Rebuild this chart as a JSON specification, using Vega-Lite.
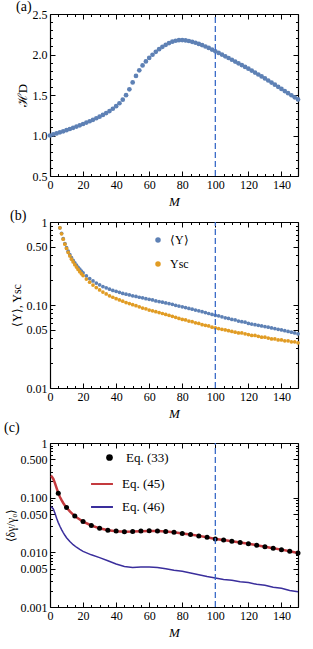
{
 "$schema": "https://vega.github.io/schema/vega-lite/v6.json",
 "padding": {"left": 4, "right": 2, "top": 0, "bottom": 0},
 "spacing": 0,
 "resolve": {"scale": {"color": "independent", "shape": "independent"}, "legend": {"color": "independent", "shape": "independent"}},
 "config": {
  "font": "Liberation Serif",
  "view": {"stroke": null},
  "axis": {"labelFont": "Liberation Serif", "labelFontSize": 12, "labelColor": "black", "titleFont": "Liberation Serif", "titleFontSize": 13, "titleFontWeight": "normal", "titleColor": "black", "domainColor": "black", "domainWidth": 1.2, "tickColor": "black", "tickWidth": 1, "grid": false, "labelFlush": false, "labelOverlap": false, "labelBound": false, "titlePadding": 3},
  "legend": {"labelFont": "Liberation Serif", "labelColor": "black", "padding": 0},
  "title": {"font": "Liberation Serif", "fontSize": 14, "fontWeight": "normal", "anchor": "start", "frame": "bounds", "color": "black"}
 },
 "datasets": {
  "a": [
   {"M":0,"H":1.000},{"M":2,"H":1.013},{"M":4,"H":1.026},{"M":6,"H":1.039},{"M":8,"H":1.052},{"M":10,"H":1.066},{"M":12,"H":1.080},{"M":14,"H":1.095},{"M":16,"H":1.110},{"M":18,"H":1.126},{"M":20,"H":1.142},{"M":22,"H":1.159},{"M":24,"H":1.176},{"M":26,"H":1.194},{"M":28,"H":1.213},{"M":30,"H":1.233},{"M":32,"H":1.254},{"M":34,"H":1.277},{"M":36,"H":1.302},{"M":38,"H":1.330},{"M":40,"H":1.362},{"M":42,"H":1.398},{"M":44,"H":1.442},{"M":46,"H":1.498},{"M":48,"H":1.570},{"M":50,"H":1.655},{"M":52,"H":1.735},{"M":54,"H":1.805},{"M":56,"H":1.865},{"M":58,"H":1.915},{"M":60,"H":1.958},{"M":62,"H":1.997},{"M":64,"H":2.033},{"M":66,"H":2.066},{"M":68,"H":2.095},{"M":70,"H":2.120},{"M":72,"H":2.141},{"M":74,"H":2.158},{"M":76,"H":2.170},{"M":78,"H":2.177},{"M":80,"H":2.178},{"M":82,"H":2.174},{"M":84,"H":2.167},{"M":86,"H":2.157},{"M":88,"H":2.145},{"M":90,"H":2.131},{"M":92,"H":2.116},{"M":94,"H":2.099},{"M":96,"H":2.081},{"M":98,"H":2.061},{"M":100,"H":2.040},{"M":102,"H":2.020},{"M":104,"H":1.999},{"M":106,"H":1.978},{"M":108,"H":1.957},{"M":110,"H":1.935},{"M":112,"H":1.913},{"M":114,"H":1.891},{"M":116,"H":1.869},{"M":118,"H":1.847},{"M":120,"H":1.825},{"M":122,"H":1.801},{"M":124,"H":1.777},{"M":126,"H":1.753},{"M":128,"H":1.729},{"M":130,"H":1.705},{"M":132,"H":1.679},{"M":134,"H":1.653},{"M":136,"H":1.627},{"M":138,"H":1.601},{"M":140,"H":1.575},{"M":142,"H":1.549},{"M":144,"H":1.523},{"M":146,"H":1.497},{"M":148,"H":1.471},{"M":150,"H":1.445}
  ],
  "b": [
   {"M":6,"u":0.85,"sc":0.85},{"M":7,"u":0.73,"sc":0.72},{"M":8,"u":0.63,"sc":0.62},{"M":9,"u":0.55,"sc":0.54},{"M":10,"u":0.49,"sc":0.48},{"M":11,"u":0.445,"sc":0.43},{"M":12,"u":0.405,"sc":0.39},{"M":13,"u":0.372,"sc":0.357},{"M":14,"u":0.345,"sc":0.33},{"M":15,"u":0.322,"sc":0.306},{"M":16,"u":0.302,"sc":0.286},{"M":17,"u":0.285,"sc":0.268},{"M":18,"u":0.27,"sc":0.252},{"M":19,"u":0.256,"sc":0.238},{"M":20,"u":0.244,"sc":0.226},{"M":22,"u":0.224,"sc":0.205},{"M":24,"u":0.208,"sc":0.188},{"M":26,"u":0.195,"sc":0.174},{"M":28,"u":0.184,"sc":0.162},{"M":30,"u":0.175,"sc":0.152},{"M":32,"u":0.167,"sc":0.143},{"M":34,"u":0.161,"sc":0.136},{"M":36,"u":0.155,"sc":0.129},{"M":38,"u":0.150,"sc":0.124},{"M":40,"u":0.146,"sc":0.119},{"M":42,"u":0.142,"sc":0.115},{"M":44,"u":0.138,"sc":0.111},{"M":46,"u":0.135,"sc":0.107},{"M":48,"u":0.132,"sc":0.104},{"M":50,"u":0.129,"sc":0.101},{"M":52,"u":0.127,"sc":0.098},{"M":54,"u":0.124,"sc":0.095},{"M":56,"u":0.122,"sc":0.092},{"M":58,"u":0.119,"sc":0.090},{"M":60,"u":0.117,"sc":0.087},{"M":62,"u":0.115,"sc":0.085},{"M":64,"u":0.112,"sc":0.083},{"M":66,"u":0.110,"sc":0.081},{"M":68,"u":0.108,"sc":0.079},{"M":70,"u":0.106,"sc":0.077},{"M":72,"u":0.104,"sc":0.075},{"M":74,"u":0.102,"sc":0.073},{"M":76,"u":0.099,"sc":0.071},{"M":78,"u":0.097,"sc":0.069},{"M":80,"u":0.095,"sc":0.067},{"M":82,"u":0.093,"sc":0.066},{"M":84,"u":0.091,"sc":0.064},{"M":86,"u":0.089,"sc":0.063},{"M":88,"u":0.087,"sc":0.061},{"M":90,"u":0.085,"sc":0.060},{"M":92,"u":0.083,"sc":0.058},{"M":94,"u":0.081,"sc":0.057},{"M":96,"u":0.079,"sc":0.056},{"M":98,"u":0.077,"sc":0.054},{"M":100,"u":0.075,"sc":0.053},{"M":102,"u":0.074,"sc":0.052},{"M":104,"u":0.072,"sc":0.051},{"M":106,"u":0.070,"sc":0.050},{"M":108,"u":0.069,"sc":0.049},{"M":110,"u":0.067,"sc":0.048},{"M":112,"u":0.066,"sc":0.047},{"M":114,"u":0.064,"sc":0.046},{"M":116,"u":0.063,"sc":0.046},{"M":118,"u":0.062,"sc":0.045},{"M":120,"u":0.060,"sc":0.044},{"M":122,"u":0.059,"sc":0.043},{"M":124,"u":0.058,"sc":0.043},{"M":126,"u":0.057,"sc":0.042},{"M":128,"u":0.056,"sc":0.041},{"M":130,"u":0.055,"sc":0.041},{"M":132,"u":0.054,"sc":0.040},{"M":134,"u":0.053,"sc":0.039},{"M":136,"u":0.052,"sc":0.039},{"M":138,"u":0.051,"sc":0.038},{"M":140,"u":0.050,"sc":0.038},{"M":142,"u":0.049,"sc":0.037},{"M":144,"u":0.048,"sc":0.037},{"M":146,"u":0.047,"sc":0.036},{"M":148,"u":0.046,"sc":0.036},{"M":150,"u":0.045,"sc":0.035}
  ],
  "c33": [
   {"M":5,"v":0.121},{"M":10,"v":0.066},{"M":15,"v":0.046},{"M":20,"v":0.0365},{"M":25,"v":0.031},{"M":30,"v":0.0275},{"M":35,"v":0.0253},{"M":40,"v":0.0245},{"M":45,"v":0.0238},{"M":50,"v":0.0240},{"M":55,"v":0.0245},{"M":60,"v":0.0247},{"M":65,"v":0.0246},{"M":70,"v":0.0240},{"M":75,"v":0.0232},{"M":80,"v":0.0222},{"M":85,"v":0.0212},{"M":90,"v":0.0200},{"M":95,"v":0.0188},{"M":100,"v":0.0176},{"M":105,"v":0.0168},{"M":110,"v":0.0160},{"M":115,"v":0.0152},{"M":120,"v":0.0144},{"M":125,"v":0.0135},{"M":130,"v":0.0127},{"M":135,"v":0.0119},{"M":140,"v":0.0112},{"M":145,"v":0.0105},{"M":150,"v":0.0097}
  ],
  "c45": [
   {"M":0.5,"v":0.25},{"M":1,"v":0.245},{"M":2,"v":0.22},{"M":3,"v":0.185},{"M":4,"v":0.15},{"M":5,"v":0.121},{"M":6,"v":0.103},{"M":7,"v":0.09},{"M":8,"v":0.08},{"M":9,"v":0.072},{"M":10,"v":0.066},{"M":12,"v":0.056},{"M":14,"v":0.049},{"M":16,"v":0.044},{"M":18,"v":0.040},{"M":20,"v":0.0365},{"M":25,"v":0.031},{"M":30,"v":0.0275},{"M":35,"v":0.0253},{"M":40,"v":0.0244},{"M":45,"v":0.0239},{"M":50,"v":0.0240},{"M":55,"v":0.0244},{"M":60,"v":0.0246},{"M":65,"v":0.0245},{"M":70,"v":0.0240},{"M":75,"v":0.0232},{"M":80,"v":0.0222},{"M":85,"v":0.0212},{"M":90,"v":0.0200},{"M":95,"v":0.0188},{"M":100,"v":0.0176},{"M":105,"v":0.0168},{"M":110,"v":0.0160},{"M":115,"v":0.0152},{"M":120,"v":0.0144},{"M":125,"v":0.0135},{"M":130,"v":0.0127},{"M":135,"v":0.0119},{"M":140,"v":0.0112},{"M":145,"v":0.0105},{"M":150,"v":0.0097}
  ],
  "c46": [
   {"M":0.5,"v":0.068},{"M":1,"v":0.067},{"M":2,"v":0.062},{"M":3,"v":0.052},{"M":4,"v":0.042},{"M":5,"v":0.035},{"M":6,"v":0.030},{"M":7,"v":0.026},{"M":8,"v":0.023},{"M":9,"v":0.0205},{"M":10,"v":0.0185},{"M":12,"v":0.0158},{"M":14,"v":0.0138},{"M":16,"v":0.0124},{"M":18,"v":0.0113},{"M":20,"v":0.0104},{"M":25,"v":0.0090},{"M":30,"v":0.0080},{"M":35,"v":0.0070},{"M":40,"v":0.0061},{"M":45,"v":0.0055},{"M":50,"v":0.0053},{"M":55,"v":0.0054},{"M":60,"v":0.0054},{"M":65,"v":0.0053},{"M":70,"v":0.0050},{"M":75,"v":0.0047},{"M":80,"v":0.0045},{"M":85,"v":0.0042},{"M":90,"v":0.0039},{"M":95,"v":0.0036},{"M":100,"v":0.0034},{"M":105,"v":0.0032},{"M":110,"v":0.0031},{"M":115,"v":0.0029},{"M":120,"v":0.0028},{"M":125,"v":0.0026},{"M":130,"v":0.0025},{"M":135,"v":0.0023},{"M":140,"v":0.0022},{"M":145,"v":0.0020},{"M":150,"v":0.0019}
  ]
 },
 "vconcat": [
  {
   "title": {"text": "(a)", "offset": -6},
   "width": 248, "height": 162,
   "layer": [
    {"data": {"name": "a"}, "mark": {"type": "circle", "size": 22, "color": "#5e81b5", "opacity": 1},
     "encoding": {
      "x": {"field": "M", "type": "quantitative", "scale": {"domain": [0, 150], "nice": false, "zero": false},
       "axis": {"orient": "bottom", "title": "M", "titleFontStyle": "italic", "values": [0,5,10,15,20,25,30,35,40,45,50,55,60,65,70,75,80,85,90,95,100,105,110,115,120,125,130,135,140,145,150], "labelExpr": "datum.value % 20 === 0 ? datum.label : ''", "tickSize": {"condition": {"test": "datum.value % 20 !== 0", "value": -2.5}, "value": -5}, "labelPadding": 8, "labelFlush": false}},
      "y": {"field": "H", "type": "quantitative", "scale": {"domain": [0.5, 2.5], "nice": false, "zero": false},
       "axis": {"orient": "left", "title": "ℋD", "values": [0.5,0.6,0.7,0.8,0.9,1,1.1,1.2,1.3,1.4,1.5,1.6,1.7,1.8,1.9,2,2.1,2.2,2.3,2.4,2.5], "labelExpr": "abs(datum.value*2-round(datum.value*2)) < 0.001 ? format(datum.value, '.1f') : ''", "tickSize": {"condition": {"test": "abs(datum.value*2-round(datum.value*2)) >= 0.001", "value": -2.5}, "value": -5}, "labelPadding": 8}}
     }},
    {"data": {"values": [{"M": 100}]}, "mark": {"type": "rule", "color": "#3a6bc8", "strokeDash": [6, 3], "strokeWidth": 1.3},
     "encoding": {
      "x": {"field": "M", "type": "quantitative", "axis": {"orient": "top", "title": null, "labels": false, "values": [0,5,10,15,20,25,30,35,40,45,50,55,60,65,70,75,80,85,90,95,100,105,110,115,120,125,130,135,140,145,150], "tickSize": {"condition": {"test": "datum.value % 20 !== 0", "value": -2.5}, "value": -5}}},
      "y": {"datum": 0.5, "type": "quantitative", "axis": {"orient": "right", "title": null, "labels": false, "values": [0.5,0.6,0.7,0.8,0.9,1,1.1,1.2,1.3,1.4,1.5,1.6,1.7,1.8,1.9,2,2.1,2.2,2.3,2.4,2.5], "tickSize": {"condition": {"test": "abs(datum.value*2-round(datum.value*2)) >= 0.001", "value": -2.5}, "value": -5}}},
      "y2": {"datum": 2.5}
     }}
   ],
   "resolve": {"axis": {"x": "independent", "y": "independent"}}
  },
  {
   "title": {"text": "(b)", "offset": -7},
   "width": 248, "height": 166,
   "layer": [
    {"data": {"name": "b"}, "mark": {"type": "circle", "size": 14, "opacity": 1},
     "encoding": {
      "x": {"field": "M", "type": "quantitative", "scale": {"domain": [0, 150], "nice": false, "zero": false},
       "axis": {"orient": "bottom", "title": "M", "titleFontStyle": "italic", "values": [0,5,10,15,20,25,30,35,40,45,50,55,60,65,70,75,80,85,90,95,100,105,110,115,120,125,130,135,140,145,150], "labelExpr": "datum.value % 20 === 0 ? datum.label : ''", "tickSize": {"condition": {"test": "datum.value % 20 !== 0", "value": -2.5}, "value": -5}, "labelPadding": 8, "labelFlush": false}},
      "y": {"field": "u", "type": "quantitative", "scale": {"type": "log", "domain": [0.01, 1], "nice": false},
       "axis": {"orient": "left", "title": "⟨Υ⟩, Υsc", "titleFontSize": 12, "values": [0.01,0.02,0.03,0.04,0.05,0.06,0.07,0.08,0.09,0.1,0.2,0.3,0.4,0.5,0.6,0.7,0.8,0.9,1], "labelExpr": "datum.value === 1 ? '1' : indexof([0.01,0.05,0.1,0.5], datum.value) >= 0 ? format(datum.value, '.2f') : ''", "tickSize": {"condition": {"test": "indexof([0.01,0.05,0.1,0.5,1], datum.value) < 0", "value": -2.5}, "value": -5}, "labelPadding": 8}},
      "color": {"datum": "⟨Υ⟩", "scale": {"domain": ["⟨Υ⟩", "Υsc"], "range": ["#5e81b5", "#e19c24"]},
       "legend": {"orient": "none", "legendX": 102, "legendY": 12, "title": null, "symbolType": "circle", "symbolSize": 30, "labelFontSize": 12, "rowPadding": 12, "labelOffset": 6}}
     }},
    {"data": {"name": "b"}, "mark": {"type": "circle", "size": 14, "opacity": 1},
     "encoding": {
      "x": {"field": "M", "type": "quantitative", "axis": null},
      "y": {"field": "sc", "type": "quantitative", "axis": null},
      "color": {"datum": "Υsc"}
     }},
    {"data": {"values": [{"M": 100}]}, "mark": {"type": "rule", "color": "#3a6bc8", "strokeDash": [6, 3], "strokeWidth": 1.3},
     "encoding": {
      "x": {"field": "M", "type": "quantitative", "axis": {"orient": "top", "title": null, "labels": false, "values": [0,5,10,15,20,25,30,35,40,45,50,55,60,65,70,75,80,85,90,95,100,105,110,115,120,125,130,135,140,145,150], "tickSize": {"condition": {"test": "datum.value % 20 !== 0", "value": -2.5}, "value": -5}}},
      "y": {"datum": 0.01, "type": "quantitative", "axis": {"orient": "right", "title": null, "labels": false, "values": [0.01,0.02,0.03,0.04,0.05,0.06,0.07,0.08,0.09,0.1,0.2,0.3,0.4,0.5,0.6,0.7,0.8,0.9,1], "tickSize": {"condition": {"test": "indexof([0.01,0.05,0.1,0.5,1], datum.value) < 0", "value": -2.5}, "value": -5}}},
      "y2": {"datum": 1}
     }}
   ],
   "resolve": {"axis": {"x": "independent", "y": "independent"}}
  },
  {
   "title": {"text": "(c)", "offset": 2},
   "width": 248, "height": 164,
   "layer": [
    {"data": {"name": "c45"}, "mark": {"type": "line", "strokeWidth": 2.5},
     "encoding": {
      "x": {"field": "M", "type": "quantitative", "scale": {"domain": [0, 150], "nice": false, "zero": false},
       "axis": {"orient": "bottom", "title": "M", "titleFontStyle": "italic", "values": [0,5,10,15,20,25,30,35,40,45,50,55,60,65,70,75,80,85,90,95,100,105,110,115,120,125,130,135,140,145,150], "labelExpr": "datum.value % 20 === 0 ? datum.label : ''", "tickSize": {"condition": {"test": "datum.value % 20 !== 0", "value": -2.5}, "value": -5}, "labelPadding": 8, "labelFlush": false}},
      "y": {"field": "v", "type": "quantitative", "scale": {"type": "log", "domain": [0.001, 1], "nice": false},
       "axis": {"orient": "left", "title": "⟨δγ/γ₀⟩", "titleFontSize": 12, "values": [0.001,0.002,0.003,0.004,0.005,0.006,0.007,0.008,0.009,0.01,0.02,0.03,0.04,0.05,0.06,0.07,0.08,0.09,0.1,0.2,0.3,0.4,0.5,0.6,0.7,0.8,0.9,1], "labelExpr": "datum.value === 1 ? '1' : indexof([0.001,0.005,0.01,0.05,0.1,0.5], datum.value) >= 0 ? format(datum.value, '.3f') : ''", "tickSize": {"condition": {"test": "indexof([0.001,0.005,0.01,0.05,0.1,0.5,1], datum.value) < 0", "value": -2.5}, "value": -5}, "labelPadding": 8}},
      "color": {"datum": "Eq. (45)", "scale": {"domain": ["Eq. (45)", "Eq. (46)"], "range": ["#c43a3e", "#3a2e9c"]},
       "legend": {"orient": "none", "legendX": 40, "legendY": 29, "title": null, "symbolType": "stroke", "symbolSize": 480, "symbolStrokeWidth": 2, "labelFontSize": 13, "rowPadding": 4, "labelOffset": 8}}
     }},
    {"data": {"name": "c46"}, "mark": {"type": "line", "strokeWidth": 1.5},
     "encoding": {
      "x": {"field": "M", "type": "quantitative", "axis": null},
      "y": {"field": "v", "type": "quantitative", "axis": null},
      "color": {"datum": "Eq. (46)"}
     }},
    {"data": {"name": "c33"}, "mark": {"type": "point", "filled": true, "size": 25, "opacity": 1, "color": "black"},
     "encoding": {
      "x": {"field": "M", "type": "quantitative", "axis": null},
      "y": {"field": "v", "type": "quantitative", "axis": null},
      "shape": {"datum": "Eq. (33)", "scale": {"domain": ["Eq. (33)"], "range": ["circle"]},
       "legend": {"orient": "none", "legendX": 53, "legendY": 8, "title": null, "symbolSize": 45, "symbolFillColor": "black", "symbolStrokeWidth": 0, "labelFontSize": 13, "labelOffset": 10}}
     }},
    {"data": {"values": [{"M": 100}]}, "mark": {"type": "rule", "color": "#3a6bc8", "strokeDash": [6, 3], "strokeWidth": 1.3},
     "encoding": {
      "x": {"field": "M", "type": "quantitative", "axis": {"orient": "top", "title": null, "labels": false, "values": [0,5,10,15,20,25,30,35,40,45,50,55,60,65,70,75,80,85,90,95,100,105,110,115,120,125,130,135,140,145,150], "tickSize": {"condition": {"test": "datum.value % 20 !== 0", "value": -2.5}, "value": -5}}},
      "y": {"datum": 0.001, "type": "quantitative", "axis": {"orient": "right", "title": null, "labels": false, "values": [0.001,0.002,0.003,0.004,0.005,0.006,0.007,0.008,0.009,0.01,0.02,0.03,0.04,0.05,0.06,0.07,0.08,0.09,0.1,0.2,0.3,0.4,0.5,0.6,0.7,0.8,0.9,1], "tickSize": {"condition": {"test": "indexof([0.001,0.005,0.01,0.05,0.1,0.5,1], datum.value) < 0", "value": -2.5}, "value": -5}}},
      "y2": {"datum": 1}
     }}
   ],
   "resolve": {"axis": {"x": "independent", "y": "independent"}}
  }
 ]
}
